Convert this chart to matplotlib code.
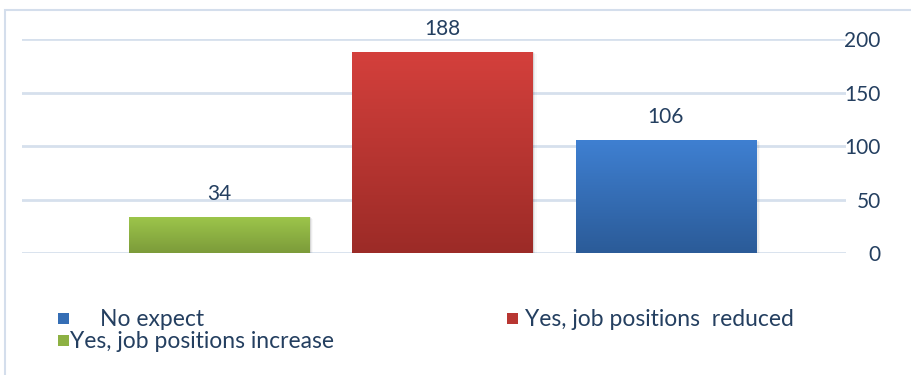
import numpy as np
import matplotlib.pyplot as plt
import matplotlib.colors as mcolors
from matplotlib.patches import Rectangle

plt.rcParams["font.family"] = ["Lato", "DejaVu Sans"]

# Survey counts
categories = ["Yes, job positions increase", "Yes, job positions  reduced", "No expect"]
counts = [34, 188, 106]
top_colors = ["#9DC64B", "#D4403C", "#3F80D2"]
bottom_colors = ["#7C9B3A", "#9C2B27", "#2B5B98"]
y_ticks = [0, 50, 100, 150, 200]

text_color = "#243F60"
grid_color = "#D6E0ED"

W, H = 912, 375
fig = plt.figure(figsize=(W / 100, H / 100), dpi=100)

# outer chart border
fig.patches.append(Rectangle((5 / W, -0.1), 1.2, 1 - 10 / H + 0.1,
                             transform=fig.transFigure, fill=False,
                             edgecolor="#D4DEEC", linewidth=1.5))

ax = fig.add_axes([22 / W, (H - 253) / H, (846 - 22) / W, (253 - 39) / H])

x = np.arange(len(counts))
bars = ax.bar(x, counts, width=0.81, color="none", zorder=3)

# vertical gradient fill + soft shadow for each bar
for bar, c_top, c_bot in zip(bars, top_colors, bottom_colors):
    x0, w, h = bar.get_x(), bar.get_width(), bar.get_height()
    for i, a in enumerate([0.09, 0.05, 0.025]):
        ax.add_patch(Rectangle((x0 + 0.005 * (i + 1), -0.6 * (i + 1)), w, h,
                               facecolor="black", alpha=a, edgecolor="none",
                               zorder=2))
    cmap = mcolors.LinearSegmentedColormap.from_list("g", [c_bot, c_top])
    grad = np.linspace(0, 1, 256).reshape(-1, 1)
    im = ax.imshow(grad, cmap=cmap, aspect="auto", origin="lower",
                   extent=[x0, x0 + w, 0, h], zorder=3)
    im.set_clip_path(bar)
    ax.annotate(f"{h:g}", (x0 + w / 2, h), xytext=(0, 16.5),
                textcoords="offset points", ha="center", va="center",
                fontsize=15, color=text_color)

ax.set_xlim(-0.886, 2.807)
ax.set_ylim(0, 200)
ax.set_yticks(y_ticks)
ax.yaxis.tick_right()
ax.tick_params(axis="y", length=0, pad=25, labelsize=15, labelcolor=text_color)
for lbl in ax.get_yticklabels():
    lbl.set_horizontalalignment("right")
ax.set_xticks([])
ax.grid(axis="y", color=grid_color, linewidth=2, zorder=0)
for s in ax.spines.values():
    s.set_visible(False)

# legend, drawn in figure pixels
legend_items = [
    (2, 58, 318, 100, "No expect"),
    (1, 507, 318, 525, "Yes, job positions  reduced"),
    (0, 58, 340, 70, "Yes, job positions increase"),
]
for idx, lx, ly, tx, label in legend_items:
    cmap = mcolors.LinearSegmentedColormap.from_list("g", [bottom_colors[idx], top_colors[idx]])
    fig.patches.append(Rectangle((lx / W, (H - ly - 5.5) / H), 11 / W, 11 / H,
                                 transform=fig.transFigure,
                                 facecolor=cmap(0.5), edgecolor="none"))
    fig.text(tx / W, (H - ly - 1) / H, label, ha="left", va="center",
             fontsize=16.5, color=text_color)

fig.savefig("out.png", dpi=100)
